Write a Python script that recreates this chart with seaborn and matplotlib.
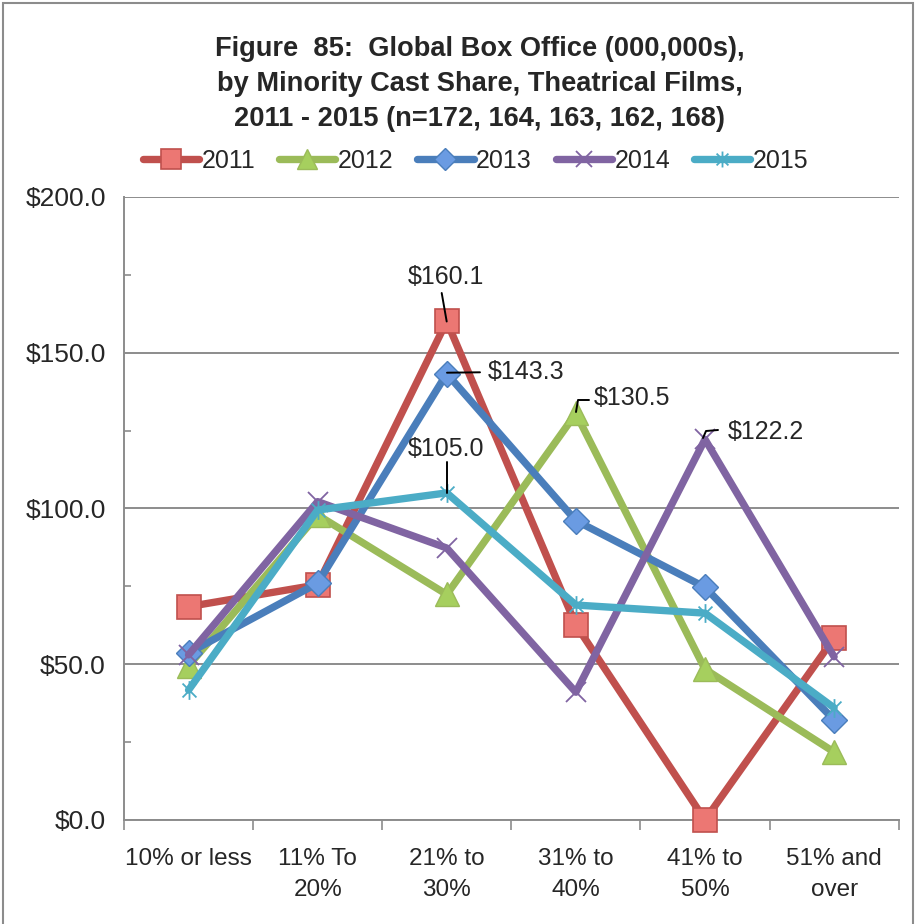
import numpy as np
import pandas as pd
import matplotlib
matplotlib.use("Agg")
import matplotlib.pyplot as plt
from matplotlib.path import Path
from matplotlib.patches import Rectangle
import seaborn as sns

# ---- data ----
categories = ["10% or less", "11% To\n20%", "21% to\n30%", "31% to\n40%", "41% to\n50%", "51% and\nover"]
years = ["2011", "2012", "2013", "2014", "2015"]
box_2011 = [68.5, 75.5, 160.1, 62.6, 0.0, 58.4]
box_2012 = [49.5, 97.9, 72.4, 130.5, 48.4, 21.8]
box_2013 = [53.6, 76.0, 143.3, 96.1, 74.7, 32.1]
box_2014 = [53.0, 102.2, 87.3, 41.0, 122.2, 52.4]
box_2015 = [41.7, 99.5, 105.0, 69.0, 66.4, 36.0]
y_ticks = [0, 50, 100, 150, 200]

series = dict(zip(years, [box_2011, box_2012, box_2013, box_2014, box_2015]))

sns.set_theme(style="white")
plt.rcParams["font.family"] = ["Liberation Sans", "DejaVu Sans"]

fig = plt.figure(figsize=(9.17, 9.24), dpi=100)
ax = fig.add_axes([0.1352, 0.1126, 0.8448, 0.6742])

# asterisk-like star: an x with a vertical stroke
star = Path([(-1, -1), (1, 1), (-1, 1), (1, -1), (0, -1.35), (0, 1.35)],
            [Path.MOVETO, Path.LINETO, Path.MOVETO, Path.LINETO, Path.MOVETO, Path.LINETO])

styles = {
    "2011": dict(color="#C0504D", marker="s", ms=17, mfc="#EC7773", mec="#C0504D", mew=1.2),
    "2012": dict(color="#9BBB59", marker="^", ms=17.5, mfc="#A6CF5E", mec="#9BBB59", mew=1.0),
    "2013": dict(color="#4A7EBB", marker="D", ms=13.5, mfc="#6A9BE2", mec="#4A7EBB", mew=1.0),
    "2014": dict(color="#8064A2", marker="x", ms=14, mfc="none", mec="#8064A2", mew=1.3),
    "2015": dict(color="#4BACC6", marker=star, ms=13.5, mfc="none", mec="#4BACC6", mew=1.3),
}

x = np.arange(len(categories))
for i, yr in enumerate(years):
    df = pd.DataFrame({"x": x, "value": series[yr]})
    st = styles[yr]
    sns.lineplot(data=df, x="x", y="value", ax=ax, color=st["color"], linewidth=5.3,
                 marker=st["marker"], markersize=st["ms"], markerfacecolor=st["mfc"],
                 markeredgecolor=st["mec"], markeredgewidth=st["mew"], label=yr,
                 zorder=3 + i, clip_on=False)

ax.set_xlim(-0.5, len(categories) - 0.5)
ax.set_ylim(0, 200)
ax.set_xlabel("")
ax.set_ylabel("")

# axes styling
grid_c = "#8C8C8C"
ax.set_yticks(y_ticks)
ax.set_yticklabels([f"${v:.1f}" for v in y_ticks], fontsize=19)
ax.set_yticks([25, 75, 125, 175], minor=True)
ax.yaxis.grid(True, which="major", color=grid_c, linewidth=1.4)
ax.xaxis.grid(False)
ax.set_axisbelow(True)
ax.tick_params(axis="y", which="major", direction="out", length=5, width=1.2, color=grid_c, pad=8)
ax.tick_params(axis="y", which="minor", direction="in", length=5, width=1.2, color=grid_c, left=True)

ax.set_xticks(x)
ax.set_xticklabels(categories, fontsize=17.5, linespacing=1.55)
ax.set_xticks(np.arange(-0.5, len(categories), 1.0), minor=True)
ax.tick_params(axis="x", which="major", length=0, pad=20)
ax.tick_params(axis="x", which="minor", direction="out", length=7, width=1.2, color=grid_c, bottom=True)

for s in ["top", "right"]:
    ax.spines[s].set_visible(False)
for s in ["left", "bottom"]:
    ax.spines[s].set_color(grid_c)
    ax.spines[s].set_linewidth(1.4)

# value callouts with leader lines
def px_to_data(px, py):
    inv = ax.transData.inverted()
    return inv.transform((px, fig.bbox.height - py))

fig.canvas.draw()

def callout(text, pts, tx, ty, ha):
    xs, ys = zip(*[px_to_data(px, py) for px, py in pts])
    ax.plot(xs, ys, color="black", linewidth=1.4, zorder=20, clip_on=False)
    tx_d, ty_d = px_to_data(tx, ty)
    ax.text(tx_d, ty_d, text, ha=ha, va="center", fontsize=18, zorder=21)

callout(f"${box_2011[2]:.1f}", [(441.7, 293), (446.7, 321.5)], 446, 277, "center")
callout(f"${box_2013[2]:.1f}", [(447, 372.7), (480, 372.3)], 488, 372, "left")
callout(f"${box_2012[3]:.1f}", [(576, 412), (578, 400), (589, 400)], 594, 398, "left")
callout(f"${box_2014[4]:.1f}", [(703, 438), (706, 431), (718, 430)], 728, 432, "left")
callout(f"${box_2015[2]:.1f}", [(446.5, 462), (446.5, 493)], 446, 449, "center")

# legend
leg = ax.legend(loc="center", bbox_to_anchor=(0.5186, 0.826), bbox_transform=fig.transFigure,
                ncol=5, frameon=False, fontsize=18, handlelength=2.25, handletextpad=0.1,
                columnspacing=0.95, markerscale=0.85)

# title
fig.text(0.523, 0.909, "Figure  85:  Global Box Office (000,000s),\nby Minority Cast Share, Theatrical Films,\n2011 - 2015 (n=172, 164, 163, 162, 168)",
         ha="center", va="center", fontsize=19.6, fontweight="bold", linespacing=1.47)

# outer chart border
fig.patches.append(Rectangle((0.003, -0.05), 0.993, 1.047, transform=fig.transFigure,
                             fill=False, edgecolor="#8C8C8C", linewidth=1.5))

fig.savefig("out.png", dpi=100)
